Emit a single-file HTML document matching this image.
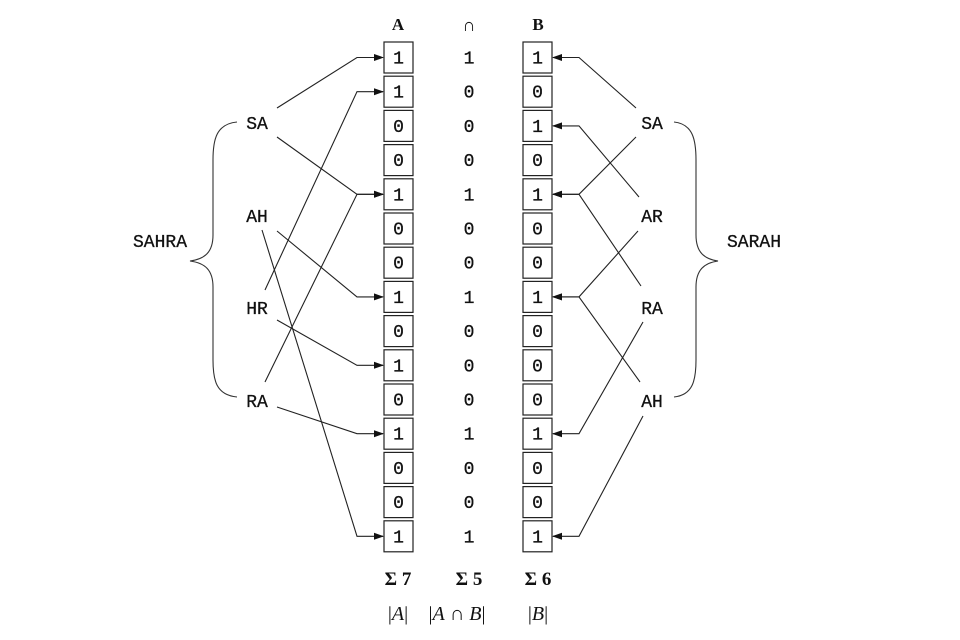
<!DOCTYPE html>
<html><head><meta charset="utf-8"><style>
html,body{margin:0;padding:0;background:#fff;}
svg{display:block;}
.m{font-family:"Liberation Mono",monospace;font-size:18px;fill:#111;stroke:#111;stroke-width:0.3;}
.s{font-family:"Liberation Serif",serif;fill:#111;}
</style></head><body>
<svg width="960" height="640" viewBox="0 0 960 640" xmlns="http://www.w3.org/2000/svg">
<defs><marker id="ah" markerWidth="10" markerHeight="8" refX="9" refY="4" orient="auto" markerUnits="userSpaceOnUse"><path d="M0,0.5 L10,4 L0,7.5 Z" fill="#111"/></marker></defs>
<g class="s" font-weight="bold" font-size="17" text-anchor="middle">
<text x="398" y="30">A</text><text x="538" y="30">B</text>
</g>
<text x="469" y="31" class="s" font-size="18" text-anchor="middle" fill="#b07020">∩</text>
<g id="rows" stroke="#222" stroke-width="1.2" fill="none"></g>
<g id="txt" class="m" text-anchor="middle"></g>
<g stroke="#222" stroke-width="1.1" fill="none" id="lines"></g>
<g class="m" text-anchor="middle" font-size="18">
<text x="257" y="129">SA</text><text x="257" y="222">AH</text><text x="257" y="314">HR</text><text x="257" y="407">RA</text>
<text x="160" y="247">SAHRA</text>
<text x="652" y="129">SA</text><text x="652" y="222">AR</text><text x="652" y="314">RA</text><text x="652" y="407">AH</text>
<text x="754" y="247">SARAH</text>
</g>
<path d="M237,122 C216,124 213,140 213,160 L213,235 C213,252 205,259 190,261 C205,263 213,270 213,287 L213,360 C213,380 216,395 237,397" stroke="#333" stroke-width="1.1" fill="none"/>
<path d="M674,122 C693,124 696,140 696,160 L696,235 C696,252 704,259 718,261 C704,263 696,270 696,287 L696,360 C696,380 693,395 674,397" stroke="#333" stroke-width="1.1" fill="none"/>
<g class="s" font-weight="bold" font-size="19" text-anchor="middle">
<text x="398" y="585">Σ 7</text><text x="469" y="585">Σ 5</text><text x="538" y="585">Σ 6</text>
</g>
<g class="s" font-size="20" text-anchor="middle">
<text x="398" y="620">|<tspan font-style="italic">A</tspan>|</text>
<text x="457" y="620">|<tspan font-style="italic">A</tspan> ∩ <tspan font-style="italic">B</tspan>|</text>
<text x="538" y="620">|<tspan font-style="italic">B</tspan>|</text>
</g>
<script>
var A=[1,1,0,0,1,0,0,1,0,1,0,1,0,0,1],B=[1,0,1,0,1,0,0,1,0,0,0,1,0,0,1];
var ns="http://www.w3.org/2000/svg",R=document.getElementById('rows'),T=document.getElementById('txt'),L=document.getElementById('lines');
function el(p,t,a,txt){var e=document.createElementNS(ns,t);for(var k in a)e.setAttribute(k,a[k]);if(txt!==undefined)e.textContent=txt;p.appendChild(e);return e;}
function yc(i){return 57.5+34.2*i;}
for(var i=0;i<15;i++){var y=42+34.2*i;
el(R,'rect',{x:384,y:y,width:29,height:31});el(R,'rect',{x:523,y:y,width:29,height:31});
el(T,'text',{x:398.5,y:yc(i)+6},A[i]);el(T,'text',{x:469,y:yc(i)+6},A[i]&B[i]);el(T,'text',{x:537.5,y:yc(i)+6},B[i]);}
function lc(x,y,r){var Y=yc(r);el(L,'path',{d:'M'+x+','+y+' L357,'+Y+' L383,'+Y,'marker-end':'url(#ah)'});}
function rc(x,y,r){var Y=yc(r);el(L,'path',{d:'M'+x+','+y+' L579,'+Y+' L553,'+Y,'marker-end':'url(#ah)'});}
lc(277,108,0);lc(277,137,4);lc(277,231,7);lc(262,230,14);lc(265,290,1);lc(277,320,9);lc(265,382,4);lc(277,407,11);
rc(636,108,0);rc(636,137,4);rc(639,197,2);rc(638,231,7);rc(641,286,4);rc(643,322,11);rc(640,382,7);rc(643,416,14);
</script>
</svg>
</body></html>
